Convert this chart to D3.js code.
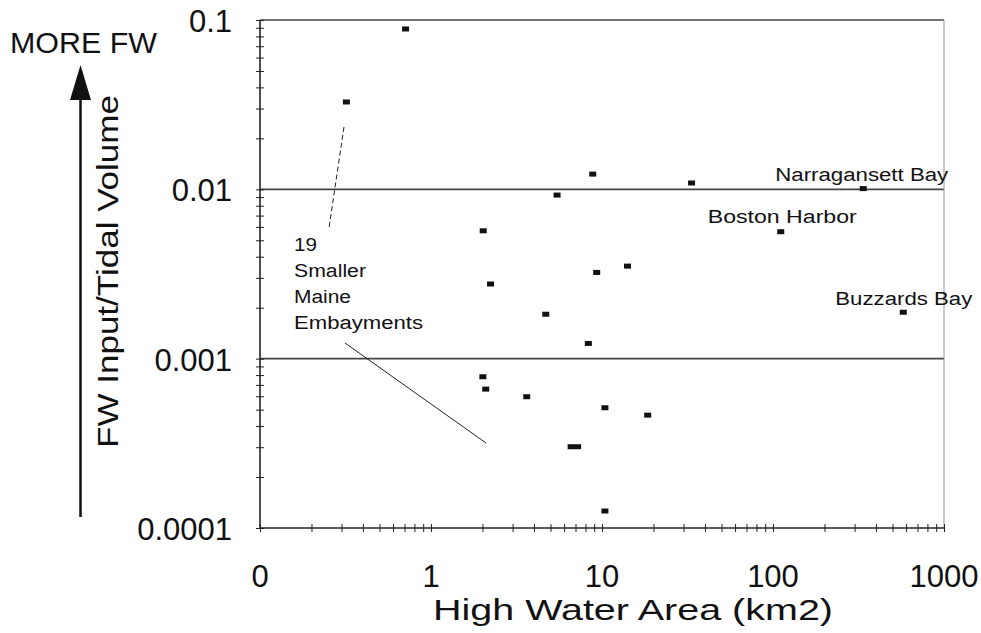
<!DOCTYPE html>
<html>
<head>
<meta charset="utf-8">
<script src="https://cdn.jsdelivr.net/npm/d3@7"></script>
<style>
  body { margin: 0; background: #fff; }
  text { font-family: "Liberation Sans", Arial, Helvetica, sans-serif; fill: #111; }
</style>
</head>
<body>
<svg id="chart" width="981" height="633"></svg>
<script>
// Smaller Maine embayments: high water area (km2) vs FW input / tidal volume
const embaymentArea  = [0.71, 0.32, 5.46, 8.83, 33.4, 2.02, 9.31, 14.1, 2.23, 4.69, 8.32, 2.01, 2.09, 3.63, 10.4, 18.5, 6.6, 7.2, 10.4];
const embaymentRatio = [0.0885, 0.0328, 0.00925, 0.0123, 0.0109, 0.00569, 0.00323, 0.00352, 0.00276, 0.00183, 0.00123, 0.000782, 0.000661, 0.000596, 0.000513, 0.000464, 0.000302, 0.000302, 0.000126];

// Larger named systems
const namedBays  = ["Narragansett  Bay", "Boston  Harbor", "Buzzards  Bay"];
const namedArea  = [337, 111, 578];
const namedRatio = [0.0101, 0.00562, 0.00188];

// Axis ticks and labels
const xTickValues = [0.1, 1, 10, 100, 1000];
const xTickLabels = ["0", "1", "10", "100", "1000"];
const yTickValues = [0.1, 0.01, 0.001, 0.0001];
const yTickLabels = ["0.1", "0.01", "0.001", "0.0001"];
const gridValues  = [0.1, 0.01, 0.001];

// Layout
const plot = { left: 260, right: 944, top: 20, bottom: 528 };
// label placement relative to each named point: [dx, dy, text width]
const namedLabelLayout = [[-88, -8, 173], [-73, -9, 149], [-68, -7, 137]];

const svg = d3.select("#chart");

const x = d3.scaleLog().domain([0.1, 1000]).range([plot.left, plot.right]);
const y = d3.scaleLog().domain([0.0001, 0.1]).range([plot.bottom, plot.top]);

// minor ticks: 1..9 within each decade
function logTicks(lo, hi) {
  const t = [];
  for (let e = Math.log10(lo); e < Math.log10(hi); e++) {
    for (let k = 1; k <= 9; k++) t.push(k * Math.pow(10, e));
  }
  t.push(hi);
  return t;
}

// horizontal reference lines
svg.append("g").selectAll("line").data(gridValues).join("line")
  .attr("x1", plot.left).attr("x2", plot.right)
  .attr("y1", d => y(d)).attr("y2", d => y(d))
  .attr("stroke", "#444").attr("stroke-width", 1.6);

// right frame edge
svg.append("line")
  .attr("x1", plot.right).attr("x2", plot.right)
  .attr("y1", plot.top).attr("y2", plot.bottom)
  .attr("stroke", "#999").attr("stroke-width", 1);

// x axis: ticks straddle the axis line
const xAxis = svg.append("g").attr("transform", `translate(0,${plot.bottom + 4})`)
  .call(d3.axisBottom(x).tickValues(logTicks(0.1, 1000)).tickSize(-8).tickFormat(""));
xAxis.select(".domain").remove();
xAxis.selectAll(".tick line").attr("stroke", "#222").attr("stroke-width", 1);
svg.append("line")
  .attr("x1", plot.left).attr("x2", plot.right)
  .attr("y1", plot.bottom).attr("y2", plot.bottom)
  .attr("stroke", "#222").attr("stroke-width", 1.6);

// y axis
const yAxis = svg.append("g").attr("transform", `translate(${plot.left + 4},0)`)
  .call(d3.axisLeft(y).tickValues(logTicks(0.0001, 0.1)).tickSize(8).tickFormat(""));
yAxis.select(".domain").remove();
yAxis.selectAll(".tick line").attr("stroke", "#222").attr("stroke-width", 1);
svg.append("line")
  .attr("x1", plot.left).attr("x2", plot.left)
  .attr("y1", plot.top).attr("y2", plot.bottom)
  .attr("stroke", "#222").attr("stroke-width", 1.6);

// tick labels
svg.append("g").selectAll("text").data(xTickValues).join("text")
  .attr("x", d => x(d)).attr("y", 587)
  .attr("text-anchor", "middle").attr("font-size", 31)
  .text((d, i) => xTickLabels[i]);

svg.append("g").selectAll("text").data(yTickValues).join("text")
  .attr("x", 232).attr("y", d => y(d) + 12)
  .attr("text-anchor", "end").attr("font-size", 31)
  .text((d, i) => yTickLabels[i]);

// axis titles
svg.append("text")
  .attr("x", 633).attr("y", 620)
  .attr("text-anchor", "middle").attr("font-size", 30)
  .attr("textLength", 400).attr("lengthAdjust", "spacingAndGlyphs")
  .text("High Water Area (km2)");

svg.append("text")
  .attr("transform", "translate(118,271.5) rotate(-90)")
  .attr("text-anchor", "middle").attr("font-size", 30)
  .attr("textLength", 353).attr("lengthAdjust", "spacingAndGlyphs")
  .text("FW Input/Tidal Volume");

// "more freshwater" arrow
svg.append("line")
  .attr("x1", 80.5).attr("x2", 80.5).attr("y1", 517).attr("y2", 96)
  .attr("stroke", "#111").attr("stroke-width", 2.5);
svg.append("path")
  .attr("d", "M80.5,65 L70,100 L91,100 Z")
  .attr("fill", "#111");
svg.append("text")
  .attr("x", 10).attr("y", 53).attr("font-size", 30)
  .attr("textLength", 147).attr("lengthAdjust", "spacingAndGlyphs")
  .text("MORE  FW");

// data points
const pts = embaymentArea.map((a, i) => ({ a, r: embaymentRatio[i] }))
  .concat(namedArea.map((a, i) => ({ a, r: namedRatio[i] })));
svg.append("g").selectAll("rect").data(pts).join("rect")
  .attr("x", d => x(d.a) - 3.5).attr("y", d => y(d.r) - 2.5)
  .attr("width", 7).attr("height", 5)
  .attr("fill", "#111");

// labels for the named systems
svg.append("g").selectAll("text").data(namedBays).join("text")
  .attr("x", (d, i) => x(namedArea[i]) + namedLabelLayout[i][0])
  .attr("y", (d, i) => y(namedRatio[i]) + namedLabelLayout[i][1])
  .attr("font-size", 18)
  .attr("textLength", (d, i) => namedLabelLayout[i][2])
  .attr("lengthAdjust", "spacingAndGlyphs")
  .text(d => d);

// annotation for the group of Maine embayments
const noteLines = ["19", "Smaller", "Maine", "Embayments"];
const noteWidths = [23, 72, 57, 129];
svg.append("g").selectAll("text").data(noteLines).join("text")
  .attr("x", 294).attr("y", (d, i) => 251 + i * 26)
  .attr("font-size", 18)
  .attr("textLength", (d, i) => noteWidths[i])
  .attr("lengthAdjust", "spacingAndGlyphs")
  .text(d => d);

svg.append("line")
  .attr("x1", 344).attr("y1", 127).attr("x2", 329).attr("y2", 228)
  .attr("stroke", "#222").attr("stroke-width", 1)
  .attr("stroke-dasharray", "5,3");
svg.append("line")
  .attr("x1", 345).attr("y1", 343).attr("x2", 486).attr("y2", 443)
  .attr("stroke", "#222").attr("stroke-width", 1);
</script>
</body>
</html>
